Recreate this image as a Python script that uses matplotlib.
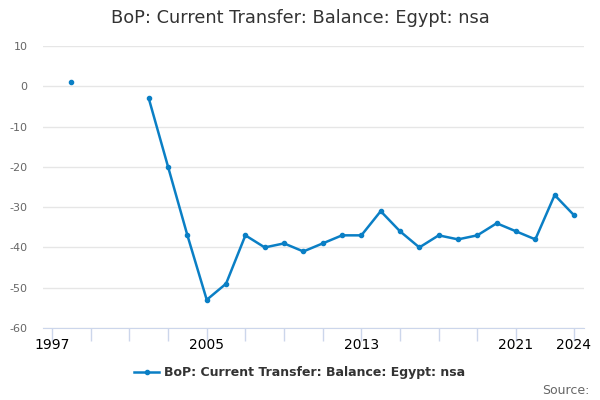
import matplotlib
matplotlib.use("Agg")
import matplotlib.pyplot as plt
import numpy as np

years = [1998, 2002, 2003, 2004, 2005, 2006, 2007, 2008, 2009, 2010, 2011, 2012,
         2013, 2014, 2015, 2016, 2017, 2018, 2019, 2020, 2021, 2022, 2023, 2024]
values = [1, -3, -20, -37, -53, -49, -37, -40, -39, -41, -39, -37,
          -37, -31, -36, -40, -37, -38, -37, -34, -36, -38, -27, -32]
tick_labels = [1997, 2005, 2013, 2021, 2024]
minor_ticks = list(range(1997, 2022, 2)) + [2024]
yticks = [10, 0, -10, -20, -30, -40, -50, -60]

title = "BoP: Current Transfer: Balance: Egypt: nsa"
color = "#0a7fc5"

fig = plt.figure(figsize=(6, 4), dpi=100)
ax = fig.add_axes([0.0717, 0.18, 0.9017, 0.705])

# split into segments at gaps
segs = []
cur_x, cur_y = [years[0]], [values[0]]
for x, y in zip(years[1:], values[1:]):
    if x - cur_x[-1] > 1:
        segs.append((cur_x, cur_y))
        cur_x, cur_y = [], []
    cur_x.append(x)
    cur_y.append(y)
segs.append((cur_x, cur_y))
for i, (sx, sy) in enumerate(segs):
    ax.plot(sx, sy, color=color, lw=1.8, marker="o", ms=3,
            label=title if i == len(segs) - 1 else None)

ax.set_xlim(1996.53, 2024.52)
ax.set_ylim(-60, 10)
ax.set_yticks(yticks)
ax.set_yticklabels([str(v) for v in yticks], fontsize=8, color="#666666")
ax.set_xticks(minor_ticks)
ax.set_xticklabels([str(t) if t in tick_labels else "" for t in minor_ticks],
                   fontsize=8, color="#666666")
ax.tick_params(axis="x", length=9, color="#ccd6eb", width=1, pad=-2)
ax.tick_params(axis="y", length=0, pad=11)
ax.grid(axis="y", color="#e6e6e6", lw=1)
ax.set_axisbelow(True)
for s in ["top", "right", "left"]:
    ax.spines[s].set_visible(False)
ax.spines["bottom"].set_color("#ccd6eb")
ax.spines["bottom"].set_position(("data", -60))

fig.text(0.5, 0.955, title, ha="center", va="center", fontsize=12.8, color="#333333")
leg = fig.legend(loc="center", bbox_to_anchor=(0.5, 0.068), frameon=False,
                 fontsize=9, handlelength=2, handletextpad=0.4)
for t in leg.get_texts():
    t.set_color("#333333")
    t.set_fontweight("bold")
fig.text(0.982, 0.025, "Source:", ha="right", va="center", fontsize=9, color="#666666")

fig.savefig("out.png", dpi=100)
